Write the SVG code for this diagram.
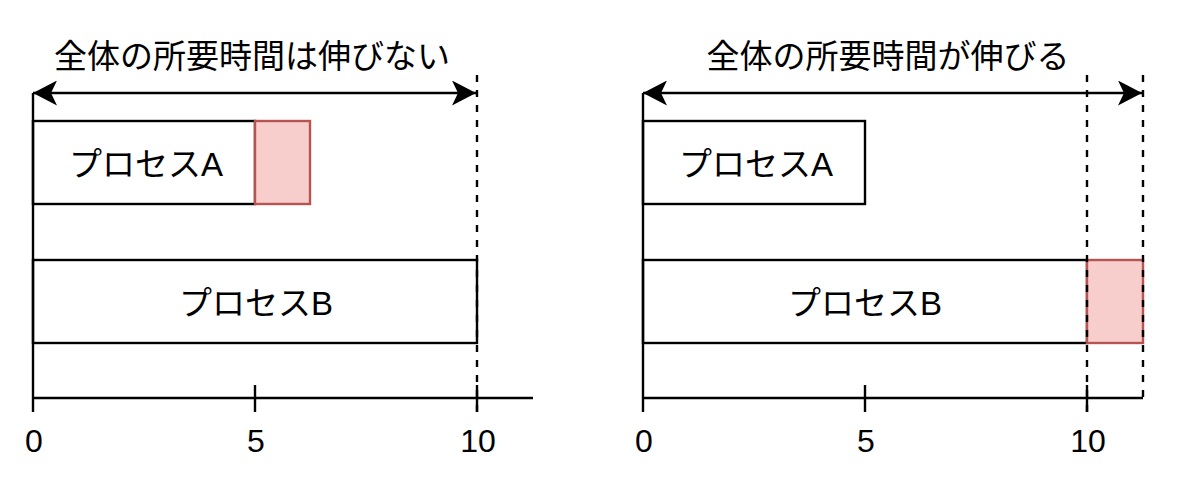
<svg xmlns="http://www.w3.org/2000/svg" width="1200" height="493" viewBox="0 0 1200 493">
<style>
.ln{stroke:#000;stroke-width:2.4;fill:none}
.dash{stroke:#000;stroke-width:2.4;fill:none;stroke-dasharray:7 8}
.box{fill:#fff;stroke:#000;stroke-width:2.4}
.extra{fill:#f8cecc;stroke:#b85450;stroke-width:2.4}
.t{font-family:"Liberation Sans","Noto Sans CJK JP",sans-serif;fill:#000;text-anchor:middle}
.title{font-size:33px}
.lbl{font-size:33px}
.num{font-size:32px}
</style>
<defs>
<marker id="ah" viewBox="0 0 24 25" refX="24" refY="12.5" markerWidth="24" markerHeight="25" markerUnits="userSpaceOnUse" orient="auto-start-reverse">
<path d="M24 12.5 L0 0 L6 12.5 L0 25 Z" fill="#000"/>
</marker>
</defs>
<rect width="1200" height="493" fill="#fff"/>

<g id="left-panel">
<g id="left-title"><text class="t title" x="252" y="68">全体の所要時間は伸びない</text></g>
<g id="left-procA">
<rect class="box" x="33" y="121" width="222" height="83"/>
<text class="t lbl" x="146" y="176">プロセスA</text>
</g>
<g id="left-extraA"><rect class="extra" x="255" y="121" width="55" height="83"/></g>
<g id="left-procB">
<rect class="box" x="33" y="260" width="444" height="83"/>
<text class="t lbl" x="256" y="315">プロセスB</text>
</g>
<g id="left-axis-labels">
<text class="t num" x="34" y="452">0</text>
<text class="t num" x="256" y="452">5</text>
<text class="t num" x="478" y="452">10</text>
</g>
</g>

<g id="right-panel">
<g id="right-title"><text class="t title" x="888" y="68">全体の所要時間が伸びる</text></g>
<g id="right-procA">
<rect class="box" x="643" y="121" width="222" height="83"/>
<text class="t lbl" x="756" y="176">プロセスA</text>
</g>
<g id="right-procB">
<rect class="box" x="643" y="260" width="444" height="83"/>
<text class="t lbl" x="865" y="315">プロセスB</text>
</g>
<g id="right-extraB"><rect class="extra" x="1087" y="260" width="56" height="83"/></g>
<g id="right-axis-labels">
<text class="t num" x="644" y="452">0</text>
<text class="t num" x="866" y="452">5</text>
<text class="t num" x="1088" y="452">10</text>
</g>
</g>

<g id="connectors">
<line class="ln" x1="33" y1="93" x2="33" y2="412"/>
<line class="ln" x1="33" y1="398" x2="533" y2="398"/>
<line class="ln" x1="255" y1="385" x2="255" y2="412"/>
<line class="ln" x1="477" y1="385" x2="477" y2="412"/>
<line class="dash" x1="477" y1="75" x2="477" y2="412"/>
<line class="ln" x1="33" y1="93" x2="476" y2="93" marker-start="url(#ah)" marker-end="url(#ah)"/>

<line class="ln" x1="643" y1="93" x2="643" y2="412"/>
<line class="ln" x1="643" y1="398" x2="1143" y2="398"/>
<line class="ln" x1="865" y1="385" x2="865" y2="412"/>
<line class="ln" x1="1087" y1="385" x2="1087" y2="412"/>
<line class="dash" x1="1087" y1="75" x2="1087" y2="412"/>
<line class="dash" x1="1143" y1="75" x2="1143" y2="398"/>
<line class="ln" x1="643" y1="93" x2="1142" y2="93" marker-start="url(#ah)" marker-end="url(#ah)"/>
</g>
</svg>
